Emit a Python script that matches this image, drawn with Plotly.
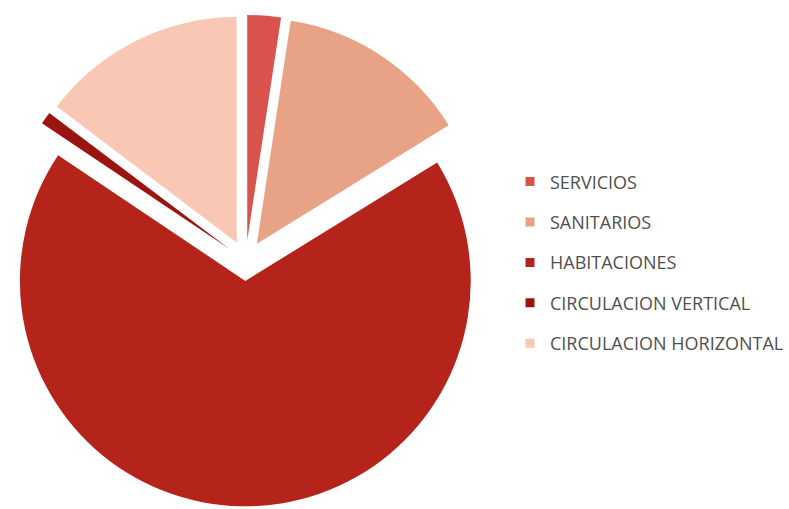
import plotly.graph_objects as go

# Distribucion de areas (porcentaje)
labels = ["SERVICIOS", "SANITARIOS", "HABITACIONES", "CIRCULACION VERTICAL", "CIRCULACION HORIZONTAL"]
values = [2.4, 13.8, 68.2, 0.9, 14.7]
colors = ["#D9524C", "#E8A386", "#B5241A", "#9B1510", "#F8C8B4"]
pulls = [0.09, 0.09, 0.09, 0.09, 0.09]

fig = go.Figure()

fig.add_trace(go.Pie(
    labels=labels,
    values=values,
    sort=False,
    direction="clockwise",
    rotation=0,
    pull=pulls,
    marker=dict(colors=colors, line=dict(width=0)),
    textinfo="none",
    hoverinfo="label+percent",
    showlegend=False,
    domain=dict(x=[0.0, 0.630], y=[0.0, 0.976]),
))

# legend entries, one per slice, so the spacing can be set with tracegroupgap
for lab, col in zip(labels, colors):
    fig.add_trace(go.Scatter(
        x=[None], y=[None],
        mode="markers",
        marker=dict(symbol="square", size=9, color=col),
        name=lab,
        legendgroup=lab,
        showlegend=True,
    ))

fig.update_layout(
    width=789,
    height=509,
    margin=dict(l=0, r=0, t=0, b=0),
    paper_bgcolor="white",
    plot_bgcolor="white",
    xaxis=dict(visible=False),
    yaxis=dict(visible=False),
    legend=dict(
        x=0.654, y=0.679,
        xanchor="left", yanchor="top",
        font=dict(family="Open Sans", size=18, color="#505050"),
        tracegroupgap=14,
        itemwidth=30,
        bgcolor="rgba(0,0,0,0)",
    ),
)

# page body has an 8px default margin; drop it so the figure fills the window
fig.write_html("out.html", config={"displayModeBar": False},
               post_script="document.body.style.margin='0';")
